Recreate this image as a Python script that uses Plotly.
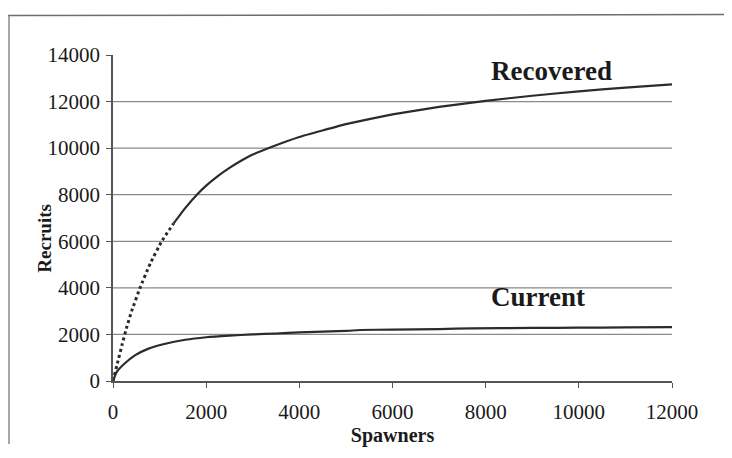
import plotly.graph_objects as go

# ---- data ----
recovered_s = [0, 100, 200, 300, 400, 580, 800, 1045, 1300, 1550, 1800, 2000, 2250, 2500,
               2750, 3000, 3400, 4000, 5000, 6000, 7000, 8000, 9000, 10000, 11000, 12000]
recovered_r = [0, 800, 1600, 2350, 3000, 4000, 5050, 6000, 6765, 7425, 8000, 8390, 8800, 9155,
               9460, 9725, 10050, 10480, 11030, 11450, 11770, 12030, 12250, 12440, 12600, 12740]

current_s = [0, 80, 250, 470, 750, 1100, 1550, 2000, 2500, 3000, 3500, 4000, 5000, 5300,
             6000, 7000, 7700, 9000, 10000, 11000, 12000]
current_r = [0, 390, 750, 1100, 1380, 1590, 1770, 1880, 1950, 2000, 2040, 2090, 2150, 2190,
             2210, 2230, 2260, 2280, 2290, 2300, 2310]

x_ticks = [0, 2000, 4000, 6000, 8000, 10000, 12000]
y_ticks = [0, 2000, 4000, 6000, 8000, 10000, 12000, 14000]
grid_levels = [2000, 4000, 6000, 8000, 10000, 12000]

series_labels = ["Recovered", "Current"]
label_pos_s = [9420, 9120]
label_pos_r = [13300, 3600]

x_title = "Spawners"
y_title = "Recruits"

# ---- figure ----
LINE = "#2b2b2b"
SERIF = "Liberation Serif, Times New Roman, serif"

fig = go.Figure()

split = recovered_s.index(1300)
fig.add_trace(go.Scatter(x=recovered_s[:split + 1], y=recovered_r[:split + 1], mode="lines",
                         line=dict(color=LINE, width=3, dash="dot", shape="spline", smoothing=0.3),
                         showlegend=False, hoverinfo="skip"))
fig.add_trace(go.Scatter(x=recovered_s[split:], y=recovered_r[split:], mode="lines",
                         line=dict(color=LINE, width=2.2, shape="spline", smoothing=0.3),
                         showlegend=False, name="Recovered"))
fig.add_trace(go.Scatter(x=current_s, y=current_r, mode="lines",
                         line=dict(color=LINE, width=2.2, shape="spline", smoothing=0.4),
                         showlegend=False, name="Current"))

shapes = []
for g in grid_levels:
    shapes.append(dict(type="line", xref="paper", x0=0, x1=1, yref="y", y0=g, y1=g,
                       line=dict(color="#8a8a8a", width=1.2), layer="below"))

# page body adds an 8px offset; figure sized to fit the window
W, H = 716, 442
ml, mr, mt, mb = 105, 52, 47, 64
pw, ph = W - ml - mr, H - mt - mb
def px(xp):
    return (xp - ml) / pw
def py(yp):
    return (H - mb - yp) / ph
# scanned page frame (top and left border)
shapes.append(dict(type="line", xref="paper", yref="paper", x0=px(0), x1=px(W),
                   y0=py(7), y1=py(6), line=dict(color="#6e6e6e", width=1.5)))
shapes.append(dict(type="line", xref="paper", yref="paper", x0=px(1), x1=px(1),
                   y0=py(7), y1=py(H), line=dict(color="#8a8a8a", width=1.5)))

annotations = []
for t, s, r in zip(series_labels, label_pos_s, label_pos_r):
    annotations.append(dict(x=s, y=r, xref="x", yref="y", text="<b>%s</b>" % t,
                            showarrow=False, font=dict(family=SERIF, size=27, color="#1a1a1a")))
# y-axis title (sits a little below the plot's centre in the reference)
annotations.append(dict(x=px(24), y=py(233), xref="paper", yref="paper",
                        text="<b>%s</b>" % y_title, textangle=-90, showarrow=False,
                        font=dict(family=SERIF, size=19, color="#1a1a1a")))

fig.update_layout(
    width=W, height=H,
    margin=dict(l=ml, r=mr, t=mt, b=mb, pad=0),
    paper_bgcolor="white", plot_bgcolor="white",
    shapes=shapes, annotations=annotations,
    font=dict(family=SERIF, color="#1a1a1a"),
    xaxis=dict(range=[0, 12000], tickvals=x_ticks, ticktext=[str(v) for v in x_ticks],
               showgrid=False, zeroline=False, showline=True, linecolor="#555", linewidth=1.5,
               ticks="outside", ticklen=5, tickcolor="#555", tickfont=dict(size=21),
               ticklabelstandoff=6,
               title=dict(text="<b>%s</b>" % x_title, font=dict(size=20), standoff=0)),
    yaxis=dict(range=[0, 14000], tickvals=y_ticks, ticktext=[str(v) for v in y_ticks],
               showgrid=False, zeroline=False, showline=True, linecolor="#555", linewidth=1.5,
               ticks="outside", ticklen=5, tickcolor="#555", tickfont=dict(size=21),
               ticklabelstandoff=2),
)

fig.write_html("out.html")
